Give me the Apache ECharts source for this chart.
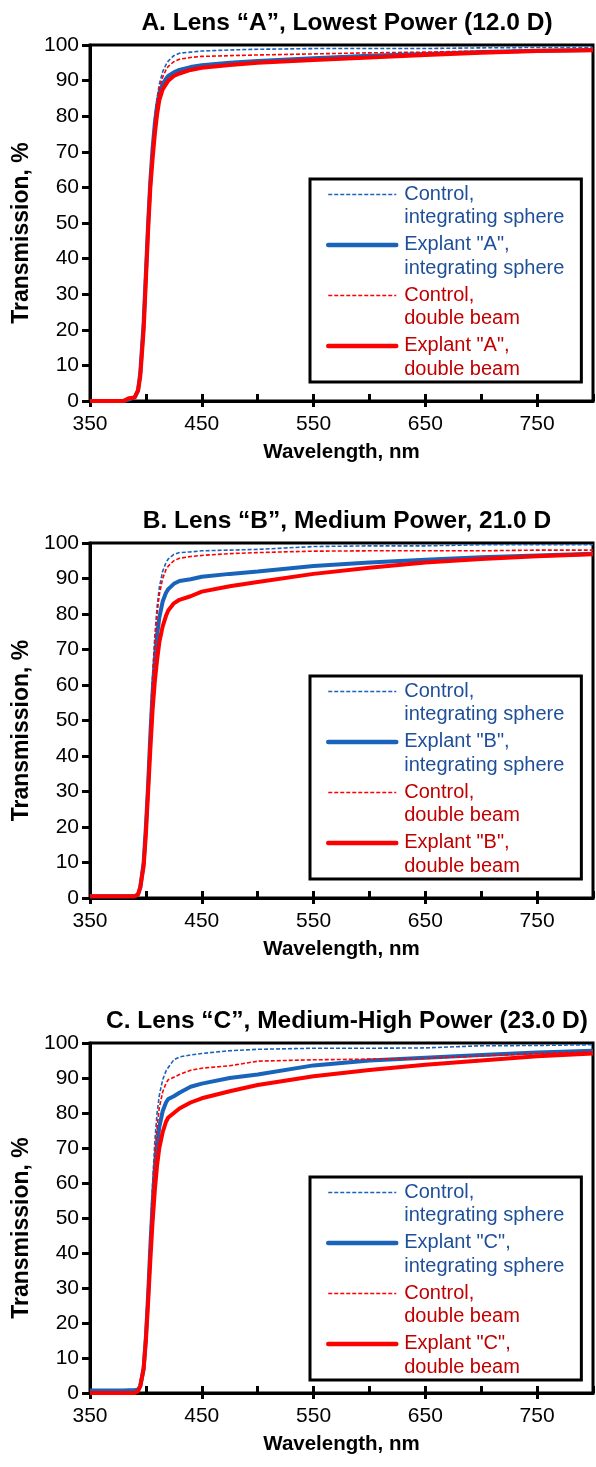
<!DOCTYPE html>
<html>
<head>
<meta charset="utf-8">
<script src="https://cdn.jsdelivr.net/npm/echarts@6/dist/echarts.min.js"></script>
<style>
html,body{margin:0;padding:0;background:#fff;}
#chart{width:596px;height:1467px;}
</style>
</head>
<body>
<div id="chart"></div>
<script>
// ---------- data ----------
const WL = [350, 380, 385, 390, 393, 395, 398, 400, 402, 404, 406, 408, 410, 412, 415, 418, 420, 425, 430, 440, 450, 475, 500, 550, 600, 650, 700, 750, 800];

const TITLES = [
  'A. Lens \u201cA\u201d, Lowest Power (12.0 D)',
  'B. Lens \u201cB\u201d, Medium Power, 21.0 D',
  'C. Lens \u201cC\u201d, Medium-High Power (23.0 D)'
];
const LENS = ['A', 'B', 'C'];

// Panel A
const A_CTRL_IS = [0, 0, 0.5, 1, 3, 8, 22, 36, 50, 63, 72, 80, 85, 89, 92.5, 94.5, 95.5, 97, 97.7, 98, 98.3, 98.6, 98.8, 99, 99, 99, 99.2, 99.3, 99.3];
const A_EXPL_IS = [0, 0, 0.5, 1, 3, 8, 22, 36, 50, 62, 71, 78, 83, 86.5, 89, 90.5, 91.3, 92.3, 93, 93.8, 94.3, 95, 95.5, 96.3, 97, 97.5, 98, 98.4, 98.6];
const A_CTRL_DB = [0, 0, 0.5, 1, 3, 8, 22, 36, 50, 63, 72, 79, 84, 88, 91, 93, 94, 95.3, 96, 96.5, 96.8, 97, 97.2, 97.5, 97.8, 98, 98.3, 98.5, 98.5];
const A_EXPL_DB = [0, 0, 0.8, 1, 3, 7, 20, 34, 48, 60, 68, 75, 80.5, 84.5, 87.5, 89, 90, 91.3, 92, 93, 93.6, 94.4, 95, 95.8, 96.5, 97.2, 97.8, 98.3, 98.5];

// Panel B
const B_CTRL_IS = [0.5, 0.5, 0.5, 0.5, 1, 3, 12, 22, 35, 50, 63, 74, 82, 87.5, 92, 94.5, 95.5, 96.8, 97.3, 97.5, 97.8, 98, 98.2, 99, 99.2, 99.2, 99.5, 99.5, 99.5];
const B_EXPL_IS = [0.5, 0.5, 0.5, 0.5, 1, 3, 10, 20, 32, 46, 58, 67, 74, 79, 83.5, 86, 87, 88.5, 89.3, 89.8, 90.5, 91.3, 92, 93.5, 94.5, 95.3, 96, 96.5, 97];
const B_CTRL_DB = [0.5, 0.5, 0.5, 0.5, 1, 3, 11, 21, 34, 48, 61, 72, 80, 85.5, 90, 92.5, 93.5, 95, 95.7, 96.2, 96.5, 97, 97.3, 97.7, 97.8, 97.8, 97.8, 98, 98];
const B_EXPL_DB = [0.5, 0.5, 0.5, 0.5, 1, 3, 9, 18, 30, 42, 53, 61, 67, 72, 76.5, 79.5, 81, 83, 84, 85, 86.3, 87.8, 89, 91.3, 93, 94.5, 95.5, 96.3, 96.8];

// Panel C
const C_CTRL_IS = [0.7, 0.7, 0.8, 0.8, 1, 2, 8, 18, 32, 46, 60, 72, 80, 85, 89.5, 92, 93, 95.2, 96, 96.6, 97, 97.8, 98.2, 98.5, 98.5, 98.6, 99.2, 99.3, 99.5];
const C_EXPL_IS = [0.7, 0.7, 0.8, 0.8, 1, 2, 7, 16, 28, 42, 54, 64, 71, 76, 80.5, 83, 84, 84.8, 85.8, 87.5, 88.4, 90, 91, 93.6, 95, 95.8, 96.6, 97.3, 97.8];
const C_CTRL_DB = [0, 0, 0, 0, 0.5, 2, 8, 17, 30, 44, 57, 68, 76, 81.5, 86, 88.5, 89.5, 90.2, 91, 92.2, 92.8, 93.5, 94.8, 95.2, 95.4, 95.6, 96.3, 97, 97.5];
const C_EXPL_DB = [0, 0, 0, 0, 0.5, 2, 7, 15, 26, 38, 49, 58, 65, 70, 74.5, 77.5, 78.7, 80, 81.3, 83, 84.2, 86.2, 88, 90.5, 92.3, 93.8, 95, 96.2, 97];

const PANELS = [
  [A_CTRL_IS, A_EXPL_IS, A_CTRL_DB, A_EXPL_DB],
  [B_CTRL_IS, B_EXPL_IS, B_CTRL_DB, B_EXPL_DB],
  [C_CTRL_IS, C_EXPL_IS, C_CTRL_DB, C_EXPL_DB]
];

const Y_MIN = 0, Y_MAX = 100, Y_STEP = 10;
const X_MIN = 350, X_MAX = 800, X_STEP = 100, X_MINOR = 50;

// ---------- layout / style ----------
const FONT = 'Liberation Sans, Arial, sans-serif';
const BLUE = '#1a63ba', BLUE_T = '#1f4f99';
const RED = '#ff0000', RED_T = '#c00000';
const GRID_TOPS = [45, 543, 1043];
const GRID_H = [356, 355, 350];
const TITLE_TOPS = [6, 504, 1004];
const LEGEND_TOPS = [179, 676, 1177];

function legendLabel(k, lens) {
  const first = ['Control,', 'Explant "' + lens + '",', 'Control,', 'Explant "' + lens + '",'][k];
  const second = k < 2 ? 'integrating sphere' : 'double beam';
  return '{a|' + first + '}\n{b|' + second + '}';
}

const option = {
  backgroundColor: '#fff',
  animation: false,
  title: [], grid: [], xAxis: [], yAxis: [], legend: [], series: []
};

const LABELS = {};
PANELS.forEach((arrs, p) => {
  option.title.push({
    text: TITLES[p], left: 342, top: TITLE_TOPS[p], textAlign: 'center',
    textStyle: { fontFamily: FONT, fontSize: 24.5, fontWeight: 'bold', color: '#000' }
  });
  option.grid.push({
    left: 90, right: 3, top: GRID_TOPS[p], height: GRID_H[p],
    show: true, borderColor: '#000', borderWidth: 3, backgroundColor: 'transparent'
  });
  option.xAxis.push({
    type: 'value', gridIndex: p, min: X_MIN, max: X_MAX, interval: X_STEP, position: 'bottom',
    name: 'Wavelength, nm', nameLocation: 'middle', nameGap: 41,
    nameTextStyle: { fontFamily: FONT, fontSize: 20.5, fontWeight: 'bold', color: '#000' },
    axisLine: { show: true, lineStyle: { color: '#000', width: 3 } },
    axisTick: { show: true, inside: false, length: 6, lineStyle: { color: '#000', width: 3 } },
    axisLabel: { show: true, showMaxLabel: false, margin: 13, fontFamily: FONT, fontSize: 21, color: '#000' },
    splitLine: { show: false }
  });
  option.xAxis.push({
    type: 'value', gridIndex: p, min: X_MIN, max: X_MAX, interval: X_MINOR, position: 'bottom',
    axisLine: { show: false },
    axisTick: { show: true, inside: true, length: 7, lineStyle: { color: '#000', width: 3 } },
    axisLabel: { show: false },
    splitLine: { show: false }
  });
  option.yAxis.push({
    type: 'value', gridIndex: p, min: Y_MIN, max: Y_MAX, interval: Y_STEP,
    name: 'Transmission, %', nameLocation: 'middle', nameGap: 55,
    nameTextStyle: { fontFamily: FONT, fontSize: 23, fontWeight: 'bold', color: '#000', padding: [0, 20, 0, 0] },
    axisLine: { show: true, lineStyle: { color: '#000', width: 3 } },
    axisTick: { show: true, inside: false, length: 8, lineStyle: { color: '#000', width: 3 } },
    axisLabel: { margin: 11, fontFamily: FONT, fontSize: 21, color: '#000' },
    splitLine: { show: false }
  });
  const names = [];
  arrs.forEach((vals, k) => {
    const nm = LENS[p] + k;
    names.push(nm);
    LABELS[nm] = legendLabel(k, LENS[p]);
    const dashed = (k % 2 === 0);
    const color = k < 2 ? BLUE : RED;
    option.series.push({
      name: nm, type: 'line', xAxisIndex: p * 2, yAxisIndex: p,
      data: WL.map((w, i) => [w, vals[i]]),
      symbol: 'none', clip: false, z: 3 + k,
      itemStyle: { color: color },
      lineStyle: { color: color, width: dashed ? 1.6 : 4, type: dashed ? [4, 2] : 'solid' }
    });
  });
  option.legend.push({
    orient: 'vertical', left: 310, top: LEGEND_TOPS[p],
    padding: [5, 17, 3, 16], itemGap: 7, itemWidth: 68, itemHeight: 14,
    borderColor: '#000', borderWidth: 3, borderRadius: 0, backgroundColor: '#fff',
    selectedMode: false,
    itemStyle: { opacity: 0 },
    textStyle: {
      fontFamily: FONT, fontSize: 20, padding: [0, 0, 0, 3],
      rich: {
        a: { fontFamily: FONT, fontSize: 20, lineHeight: 46 },
        b: { fontFamily: FONT, fontSize: 20, lineHeight: 1 }
      }
    },
    formatter: n => LABELS[n],
    data: names.map((n, i) => ({
      name: n,
      textStyle: { color: i < 2 ? BLUE_T : RED_T },
      lineStyle: (i % 2 === 0)
        ? { color: i < 2 ? BLUE : RED, width: 1.6, type: [4, 2] }
        : { color: i < 2 ? BLUE : RED, width: 4.5, type: 'solid', cap: 'round' }
    }))
  });
});

const chart = echarts.init(document.getElementById('chart'), null, { renderer: 'canvas' });
chart.setOption(option);
</script>
</body>
</html>
